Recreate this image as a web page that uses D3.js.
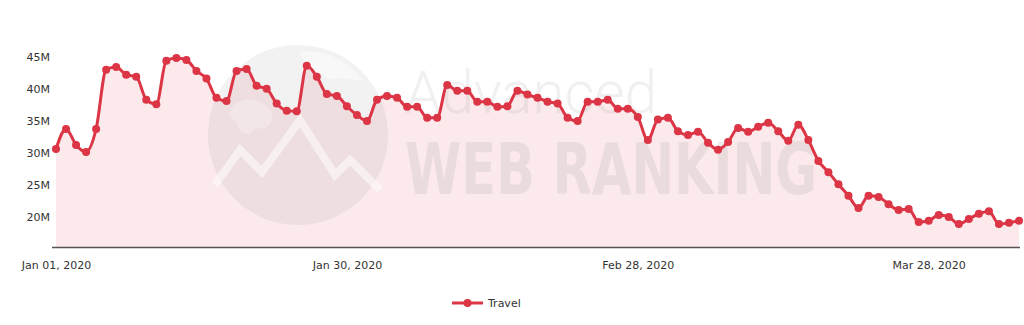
<!DOCTYPE html>
<html>
<head>
<meta charset="utf-8">
<script src="https://cdn.jsdelivr.net/npm/d3@7"></script>
<style>
html,body{margin:0;padding:0;background:#fff;}
svg{display:block;font-family:"DejaVu Sans",Verdana,sans-serif;}
</style>
</head>
<body>
<svg id="chart" width="1024" height="325"></svg>
<script>
// ---- data ----
const startDate = "2020-01-01";
const seriesName = "Travel";
const travelValues = [
  30.6, 33.75, 31.25, 30.15, 33.75, 43.0, 43.4, 42.2, 41.9, 38.3,
  37.6, 44.4, 44.8, 44.5, 42.8, 41.6, 38.6, 38.1, 42.8, 43.1,
  40.5, 40.0, 37.7, 36.6, 36.5, 43.6, 41.9, 39.2, 38.9, 37.3,
  35.9, 35.0, 38.3, 38.9, 38.6, 37.2, 37.2, 35.5, 35.5, 40.6,
  39.7, 39.7, 38.0, 38.0, 37.2, 37.3, 39.7, 39.1, 38.6, 38.0,
  37.7, 35.5, 35.0, 38.0, 38.0, 38.3, 36.9, 36.9, 35.6, 32.0,
  35.2, 35.5, 33.4, 32.8, 33.3, 31.6, 30.5, 31.7, 33.9, 33.3,
  34.1, 34.7, 33.4, 31.9, 34.4, 32.0, 28.75, 27.0, 25.1, 23.3,
  21.4, 23.3, 23.1, 22.0, 21.1, 21.25, 19.2, 19.4, 20.3, 20.0,
  18.9, 19.7, 20.5, 20.9, 18.9, 19.1, 19.4
].map(v => v * 1e6);
const yTickValues = [20e6, 25e6, 30e6, 35e6, 40e6, 45e6];
const xTickDates = ["2020-01-01", "2020-01-30", "2020-02-28", "2020-03-28"];

// ---- build ----
const parse = d3.utcParse("%Y-%m-%d");
const t0 = parse(startDate);
const data = travelValues.map((v, i) => ({date: d3.utcDay.offset(t0, i), value: v}));

const svg = d3.select("#chart");
const x = d3.scaleUtc()
  .domain([t0, data[data.length - 1].date])
  .range([56, 1019]);
const y = d3.scaleLinear()
  .domain([15.3125e6, 47e6])
  .range([247, 44]);

const lineColor = "#dc3545";
const fillColor = "#fbe9eb";

// area fill
svg.append("path")
  .datum(data)
  .attr("fill", fillColor)
  .attr("d", d3.area().x(d => x(d.date)).y0(y(15.3125e6)).y1(d => y(d.value)).curve(d3.curveMonotoneX));

// watermark
const wm = svg.append("g");
wm.append("circle").attr("cx", 298).attr("cy", 135).attr("r", 90)
  .attr("fill", "#8a8a8a").attr("opacity", 0.11);
wm.append("path")
  .attr("d", "M215,185 L240,150 L262,172 L300,120 L335,175 L350,160 L380,190")
  .attr("fill", "none").attr("stroke", "#fff").attr("stroke-width", 8).attr("opacity", 0.5);
wm.append("path")
  .attr("d", "M232,108 C240,95 262,98 270,110 C276,120 268,132 256,128 C248,140 236,132 238,122 C228,120 228,112 232,108 Z")
  .attr("fill", "#fff").attr("opacity", 0.25);
wm.append("path")
  .attr("d", "M300,52 C320,48 350,60 362,80 C350,82 340,75 330,80 C320,72 305,70 300,52 Z")
  .attr("fill", "#fff").attr("opacity", 0.45);
wm.append("text").attr("x", 405).attr("y", 113)
  .attr("font-family", "Roboto, 'Open Sans', sans-serif").attr("font-weight", 300)
  .attr("font-size", 60).attr("textLength", 252).attr("lengthAdjust", "spacingAndGlyphs")
  .attr("fill", "#8a8a8a").attr("opacity", 0.12).text("Advanced");
wm.append("text").attr("x", 405).attr("y", 194)
  .attr("font-family", "'DejaVu Sans Condensed', 'DejaVu Sans', sans-serif").attr("font-weight", "bold")
  .attr("font-size", 72).attr("textLength", 412).attr("lengthAdjust", "spacingAndGlyphs")
  .attr("fill", "#8a8a8a").attr("opacity", 0.14).text("WEB RANKING");

// line
svg.append("path")
  .datum(data)
  .attr("fill", "none")
  .attr("stroke", lineColor)
  .attr("stroke-width", 3)
  .attr("stroke-linejoin", "round")
  .attr("d", d3.line().x(d => x(d.date)).y(d => y(d.value)).curve(d3.curveMonotoneX));

svg.append("g").selectAll("circle").data(data).join("circle")
  .attr("cx", d => x(d.date)).attr("cy", d => y(d.value)).attr("r", 4)
  .attr("fill", lineColor);

// x axis
const fmtDate = d3.utcFormat("%b %d, %Y");
const xAxis = svg.append("g").attr("transform", "translate(0,247)")
  .call(d3.axisBottom(x).tickValues(xTickDates.map(parse)).tickFormat(fmtDate).tickSize(0).tickPadding(14));
xAxis.select(".domain").remove();
xAxis.append("line").attr("x1", 52).attr("x2", 1020).attr("y1", 0.5).attr("y2", 0.5)
  .attr("stroke", "#555").attr("stroke-width", 1.3);
xAxis.selectAll("text").attr("fill", "#333").attr("font-size", 11)
  .attr("font-family", "'DejaVu Sans', Verdana, sans-serif");

// y axis
const yAxis = svg.append("g").attr("transform", "translate(50,0)")
  .call(d3.axisLeft(y).tickValues(yTickValues).tickFormat(v => (v / 1e6) + "M").tickSize(0).tickPadding(0));
yAxis.select(".domain").remove();
yAxis.selectAll("text").attr("fill", "#333").attr("font-size", 11)
  .attr("font-family", "'DejaVu Sans', Verdana, sans-serif");

// legend
const lg = svg.append("g").attr("transform", "translate(452,303)");
lg.append("line").attr("x1", 0).attr("x2", 31).attr("y1", 0).attr("y2", 0)
  .attr("stroke", lineColor).attr("stroke-width", 3);
lg.append("circle").attr("cx", 15.5).attr("cy", 0).attr("r", 4).attr("fill", lineColor);
lg.append("text").attr("x", 36).attr("y", 4).attr("font-size", 11).attr("fill", "#333")
  .attr("font-family", "'DejaVu Sans', Verdana, sans-serif").text(seriesName);
</script>
</body>
</html>
